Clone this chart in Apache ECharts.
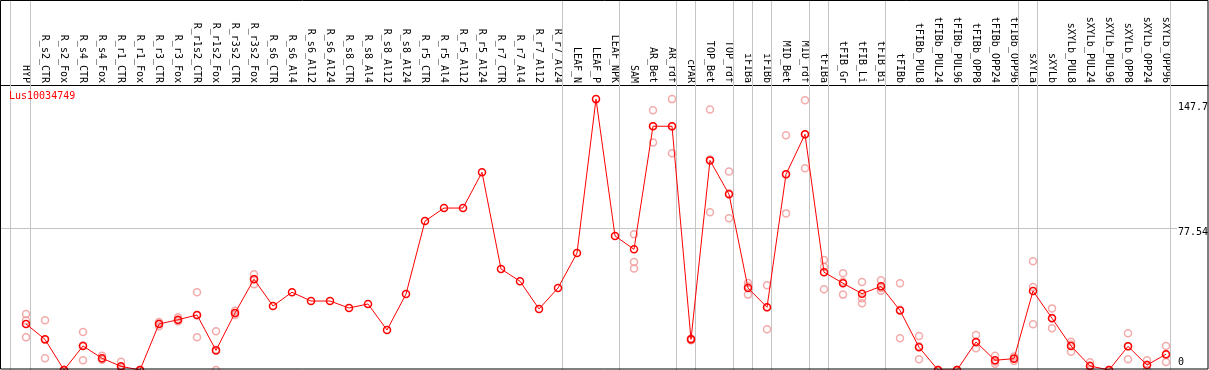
<!DOCTYPE html>
<html>
<head>
<meta charset="utf-8">
<script src="https://cdn.jsdelivr.net/npm/echarts@6/dist/echarts.min.js"></script>
<style>
html,body{margin:0;padding:0;background:#fff;}
#chart{width:1209px;height:370px;}
</style>
</head>
<body>
<div id="chart"></div>
<script>
const geneName = 'Lus10034749';
const categories = ['HYP','R_s2_CTR','R_s2_Fox','R_s4_CTR','R_s4_Fox','R_r1_CTR','R_r1_Fox','R_r3_CTR','R_r3_Fox','R_r1s2_CTR','R_r1s2_Fox','R_r3s2_CTR','R_r3s2_Fox','R_s6_CTR','R_s6_Al4','R_s6_Al12','R_s6_Al24','R_s8_CTR','R_s8_Al4','R_s8_Al12','R_s8_Al24','R_r5_CTR','R_r5_Al4','R_r5_Al12','R_r5_Al24','R_r7_CTR','R_r7_Al4','R_r7_Al12','R_r7_Al24','LEAF_N','LEAF_P','LEAF_NPK','SAM','AR_Bet','AR_rdf','cPAR','TOP_Bet','TOP_rdf','iFIBa','iFIBb','MID_Bet','MID_rdf','tFIBa','tFIB_Gr','tFIB_Li','tFIB_Bi','tFIBb','tFIBb_PUL8','tFIBb_PUL24','tFIBb_PUL96','tFIBb_OPP8','tFIBb_OPP24','tFIBb_OPP96','sXYLa','sXYLb','sXYLb_PUL8','sXYLb_PUL24','sXYLb_PUL96','sXYLb_OPP8','sXYLb_OPP24','sXYLb_OPP96'];
const meanValues = [25.1,16.7,0,13.1,6.4,2.0,0,25.1,27.4,30.0,10.7,31.1,49.5,34.9,42.4,37.6,37.6,33.8,36.0,21.8,41.4,81.2,88.3,88.3,107.8,55.1,48.4,33.3,44.7,63.8,147.7,73.1,65.8,132.9,132.9,16.7,114.3,95.8,44.7,34.2,106.7,128.5,53.3,47.3,41.6,45.6,32.5,12.4,0,0,15.3,5.3,6.2,43.1,28.2,13.1,2.2,0,12.9,2.7,8.6];
const rep1 = [30.5,27.1,0,20.7,7.8,4.5,0,26.2,28.7,42.4,21.1,32.3,52.2,null,null,null,null,null,null,null,null,null,null,null,null,null,null,null,null,null,null,null,74.0,141.6,147.7,17.2,142.1,108.3,47.4,46.2,128.0,147.1,60.0,52.7,48.0,48.9,47.3,18.5,0,0,19.1,7.8,7.3,59.3,33.6,15.4,4.2,0,20.0,5.3,13.1];
const rep2 = [27.0,16.6,0,13.3,5.8,1.5,0,25.3,26.6,29.8,11.0,31.0,49.6,null,null,null,null,null,null,null,null,null,null,null,null,null,null,null,null,null,null,null,58.9,133.0,132.8,16.7,114.8,96.4,45.6,34.2,106.7,128.4,56.3,48.1,39.1,44.7,32.9,12.9,0,0,15.0,4.7,6.4,45.3,28.3,13.9,2.4,0,12.9,2.8,8.3];
const rep3 = [17.8,6.4,0,5.3,5.6,0,0,23.8,26.9,17.8,0,30.0,46.7,null,null,null,null,null,null,null,null,null,null,null,null,null,null,null,null,null,null,null,55.4,124.1,118.2,16.2,86.0,82.7,41.1,22.2,85.4,110.0,44.0,41.1,36.4,43.2,17.3,5.8,0,0,11.8,3.4,4.9,24.9,22.7,10.0,0,0,5.8,0,4.4];
const groupEnds = [0,28,31,34,35,37,38,39,41,42,45,52,53,60];
const leftEdge = -0.84;
const yTickValues = [0, 77.54, 147.7];
const yTickLabels = ['0', '77.54', '147.7'];
const gridValue = 77.54;

const X_MIN = -1.316, X_MAX = 62.21, Y_MAX = 155.4, GRID_END = 60.58, SEP_OFFSET = 0.23;
const MONO = 'DejaVu Sans Mono';

const mainData = meanValues.map((v, i) => [i, v]);
const repData = [];
[rep1, rep2, rep3].forEach(arr => arr.forEach((v, i) => { if (v !== null) repData.push([i, v]); }));
const sepData = [[leftEdge, 0]].concat(groupEnds.map(i => [i + SEP_OFFSET, 0]));

const chart = echarts.init(document.getElementById('chart'), null, {renderer: 'canvas'});
const option = {
  animation: false,
  backgroundColor: '#fff',
  grid: {left: 1, right: 1, top: 85, bottom: 0, containLabel: false},
  title: {
    text: geneName, left: 9, top: 91, padding: 0,
    textStyle: {color: '#ff0000', fontSize: 10, fontWeight: 'normal', fontFamily: MONO}
  },
  xAxis: {
    type: 'value', position: 'top', min: X_MIN, max: X_MAX,
    axisLine: {show: true, onZero: false, lineStyle: {color: '#000', width: 1}},
    axisTick: {show: false},
    splitLine: {show: false},
    axisLabel: {
      customValues: categories.map((c, i) => i),
      formatter: v => categories[Math.round(v)] || '',
      rotate: 90, margin: 2, color: '#000', fontSize: 10, fontFamily: MONO,
      showMinLabel: true, showMaxLabel: true, hideOverlap: false
    }
  },
  yAxis: {
    type: 'value', min: 0, max: Y_MAX,
    axisLine: {show: false}, axisTick: {show: false}, splitLine: {show: false},
    axisLabel: {show: false}
  },
  series: [
    {
      type: 'custom', coordinateSystem: 'cartesian2d', silent: true, z: 1, clip: false,
      data: sepData,
      renderItem: (params, api) => {
        const x = Math.round(api.coord([api.value(0), 0])[0]) + 0.5;
        return {type: 'line', shape: {x1: x, y1: 0, x2: x, y2: 370},
          style: {stroke: '#c4c4c4', lineWidth: 1}};
      }
    },
    {
      type: 'scatter', z: 3, silent: true,
      data: repData, symbol: 'circle', symbolSize: 7,
      itemStyle: {color: 'rgba(0,0,0,0)', borderColor: '#f09595', borderWidth: 1.5}
    },
    {
      type: 'line', z: 4, silent: true,
      data: mainData, symbol: 'circle', symbolSize: 7, showSymbol: true,
      lineStyle: {color: '#ff0000', width: 1},
      itemStyle: {color: 'rgba(0,0,0,0)', borderColor: '#ff0000', borderWidth: 1.5},
      markLine: {
        silent: true, symbol: 'none', label: {show: false}, z: 1,
        lineStyle: {color: '#c4c4c4', width: 1, type: 'solid'},
        data: [[{coord: [X_MIN, gridValue]}, {coord: [GRID_END, gridValue]}]]
      }
    }
  ]
};
chart.setOption(option);

// right-side value labels placed through the y scale
const labelShift = [-8, 5, 8];
const labelX = chart.convertToPixel({xAxisIndex: 0}, GRID_END) + 1;
const gfx = [
  {type: 'rect', silent: true, z: 100, shape: {x: 0.5, y: 0.5, width: 1207.5, height: 368.5},
   style: {fill: 'none', stroke: '#000', lineWidth: 1}}
];
yTickValues.forEach((v, k) => {
  const py = chart.convertToPixel({yAxisIndex: 0}, v);
  gfx.push({type: 'text', silent: true, z: 100, x: labelX, y: py + labelShift[k],
    style: {text: yTickLabels[k], fill: '#000', font: '10px "' + MONO + '"', align: 'left', verticalAlign: 'middle'}});
});
chart.setOption({graphic: gfx});
</script>
</body>
</html>
